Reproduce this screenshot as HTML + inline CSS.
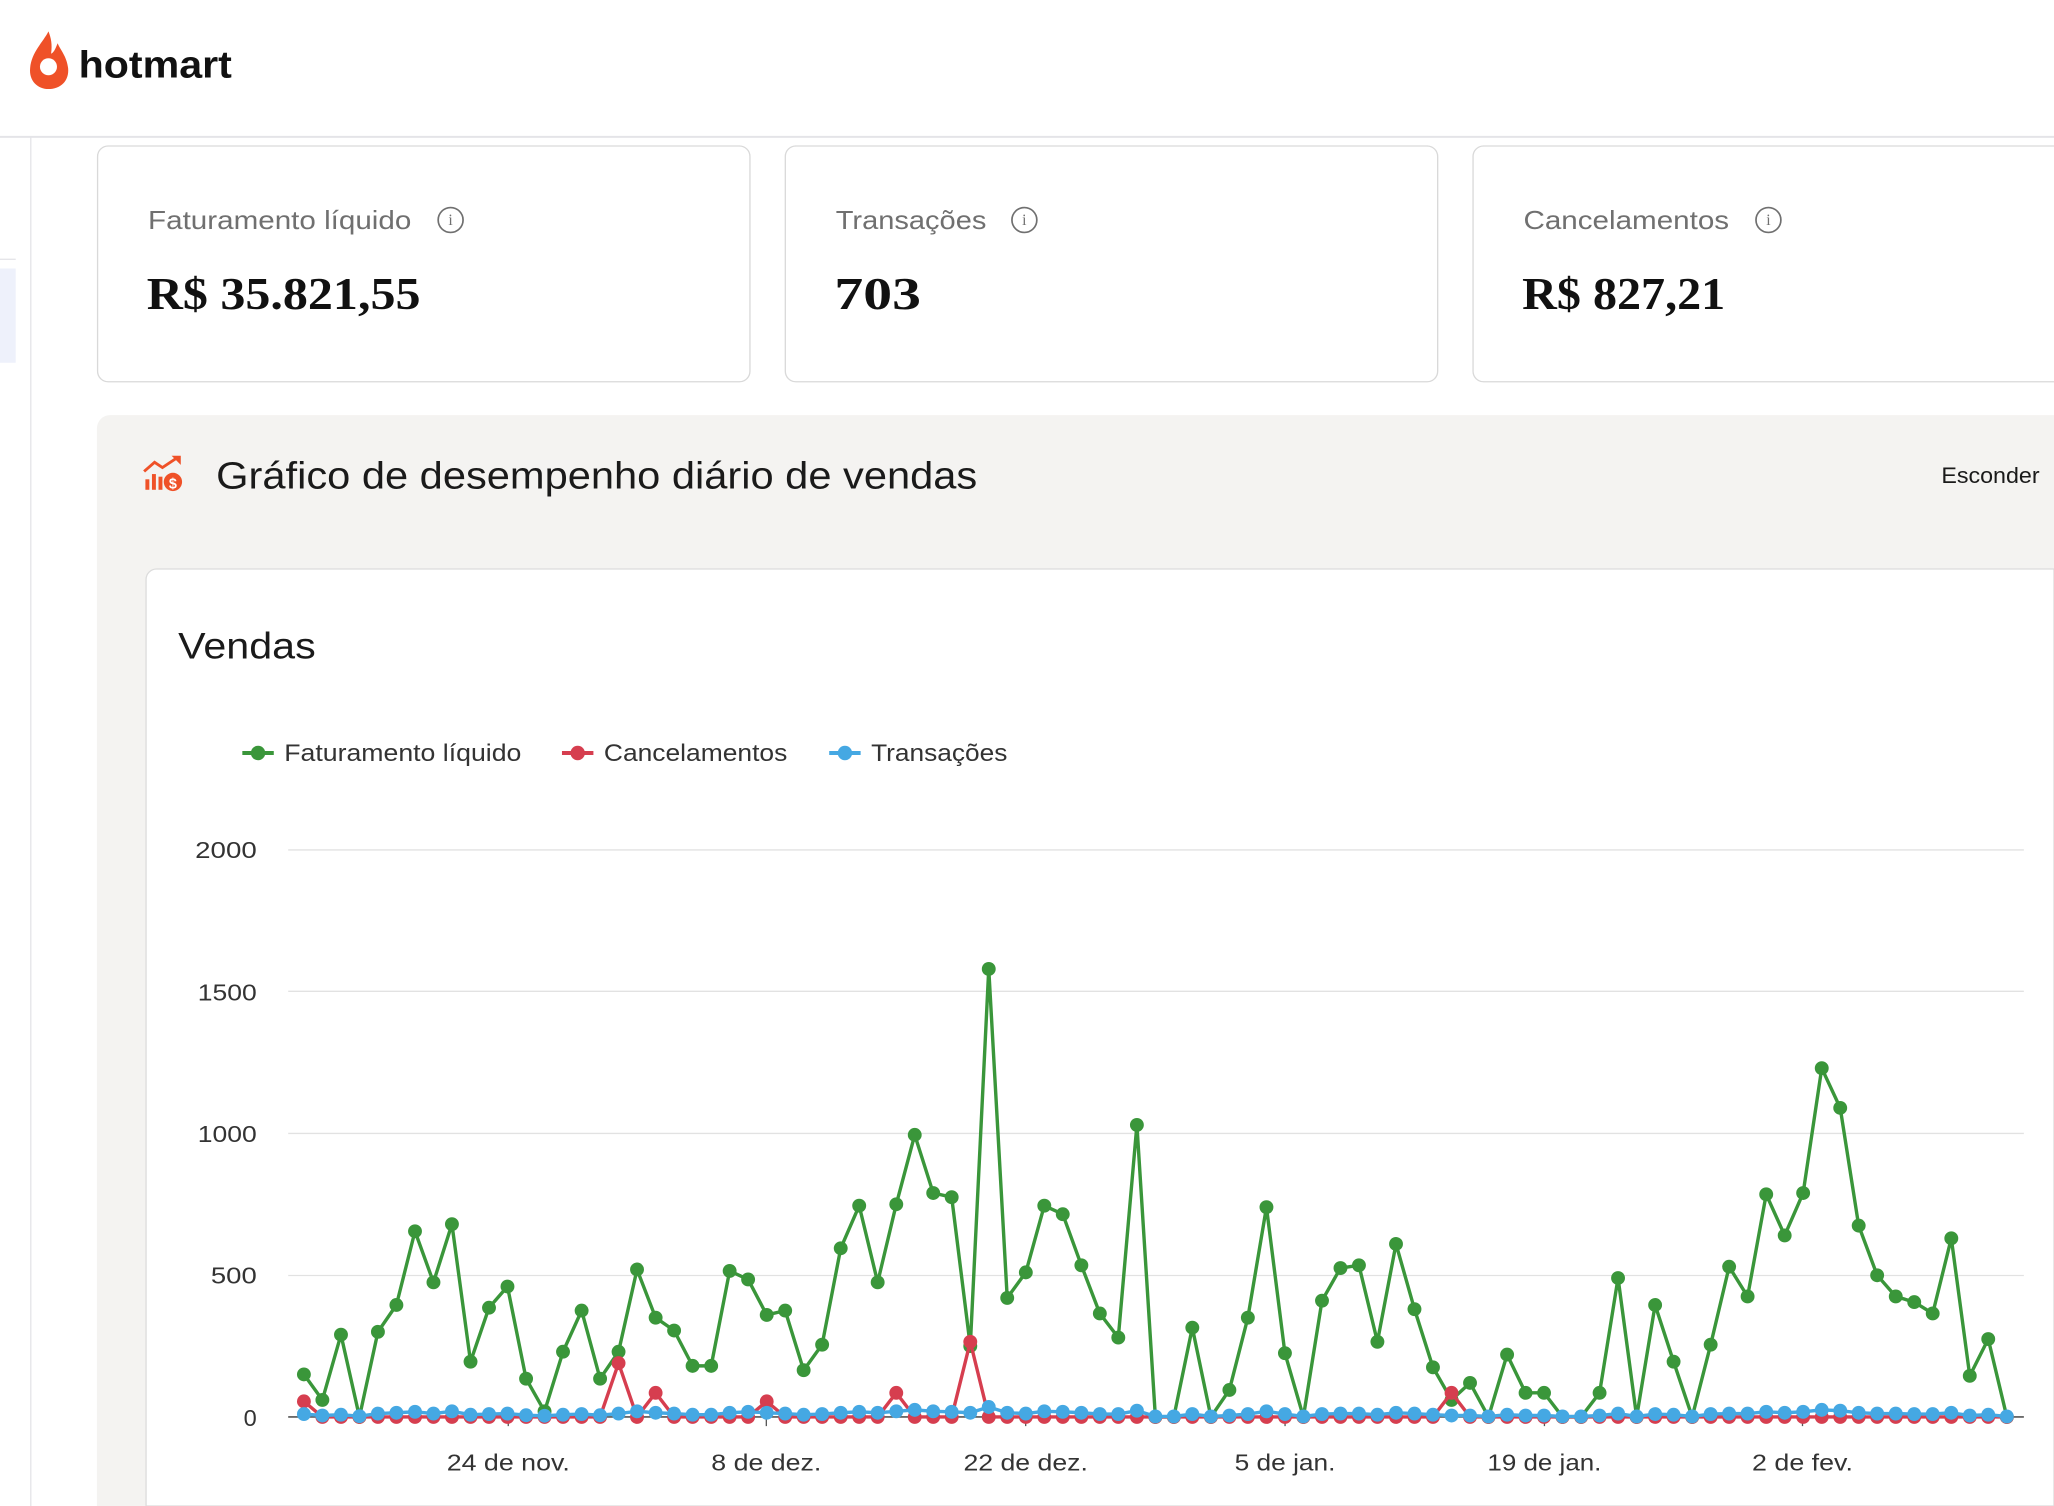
<!DOCTYPE html>
<html><head><meta charset="utf-8"><style>
html,body{margin:0;padding:0;background:#fff;overflow:hidden;width:2054px;height:1506px;}
svg{display:block;}
text{font-family:"Liberation Sans",sans-serif;}
</style></head><body>
<svg id="s" width="2054" height="1506" viewBox="0 0 1568 1150" preserveAspectRatio="none" xmlns="http://www.w3.org/2000/svg">
<rect width="1568" height="1150" fill="#fff"/>
<path d="M37 24 C33 32 24 40 23 52 C22 62 29 68 37 68 C46 68 53 62 52 52 C51 43 46 38 44 33 C42 38 41 40 39 41 C40 34 39 29 37 24 Z" fill="#ef5128"/>
<circle cx="37" cy="51" r="6.5" fill="#fff"/>
<text x="60" y="59" font-size="29" font-weight="bold" fill="#111" textLength="117" lengthAdjust="spacingAndGlyphs">hotmart</text>
<line x1="0" y1="104.5" x2="1568" y2="104.5" stroke="#e4e4e8" stroke-width="1.5"/>
<line x1="23.5" y1="104" x2="23.5" y2="1150" stroke="#e4e4e8" stroke-width="1"/>
<line x1="0" y1="198" x2="12" y2="198" stroke="#e4e4e8"/>
<rect x="0" y="205" width="12" height="72" fill="#eef1fb"/>
<rect x="74.5" y="111.5" width="498" height="180" rx="8" fill="#fff" stroke="#d9d9d9"/>
<rect x="599.5" y="111.5" width="498" height="180" rx="8" fill="#fff" stroke="#d9d9d9"/>
<path d="M1568 111.5 H1132.5 A8 8 0 0 0 1124.5 119.5 V283.5 A8 8 0 0 0 1132.5 291.5 H1568" fill="#fff" stroke="#d9d9d9"/>
<g font-size="20" fill="#707070">
<text x="113" y="175" textLength="201" lengthAdjust="spacingAndGlyphs">Faturamento líquido</text>
<text x="638" y="175" textLength="115" lengthAdjust="spacingAndGlyphs">Transações</text>
<text x="1163" y="175" textLength="157" lengthAdjust="spacingAndGlyphs">Cancelamentos</text>
</g>
<g fill="none" stroke="#707070" stroke-width="1.3">
<circle cx="344" cy="168" r="9.5"/><circle cx="782" cy="168" r="9.5"/><circle cx="1350" cy="168" r="9.5"/>
</g>
<g font-size="12" fill="#707070" text-anchor="middle">
<text x="344" y="172" style="font-family:'Liberation Serif',serif">i</text><text x="782" y="172" style="font-family:'Liberation Serif',serif">i</text><text x="1350" y="172" style="font-family:'Liberation Serif',serif">i</text>
</g>
<g font-size="35" font-weight="bold" fill="#111">
<text x="112" y="236" textLength="209" lengthAdjust="spacingAndGlyphs" style="font-family:'Liberation Serif',serif">R$ 35.821,55</text>
<text x="637" y="236" textLength="66" lengthAdjust="spacingAndGlyphs" style="font-family:'Liberation Serif',serif">703</text>
<text x="1162" y="236" textLength="155" lengthAdjust="spacingAndGlyphs" style="font-family:'Liberation Serif',serif">R$ 827,21</text>
</g>
<path d="M1568 317 H84 A10 10 0 0 0 74 327 V1150 H1568 Z" fill="#f4f3f1"/>
<g fill="#ef5128">
<rect x="111" y="366" width="3" height="8"/><rect x="116" y="362" width="3" height="12"/><rect x="121" y="364" width="3" height="10"/>
<circle cx="132" cy="368" r="7"/>
<path d="M110 360 L118 353 L124 357 L136 349" stroke="#ef5128" stroke-width="2.2" fill="none"/>
<path d="M131 348 L138 348 L138 355 Z"/>
</g>
<text x="132" y="373" font-size="11" font-weight="bold" fill="#fff" text-anchor="middle">$</text>
<text x="165" y="373" font-size="29" fill="#1a1a1a" textLength="581" lengthAdjust="spacingAndGlyphs">Gráfico de desempenho diário de vendas</text>
<text x="1482" y="369" font-size="17" fill="#1a1a1a" textLength="75" lengthAdjust="spacingAndGlyphs">Esconder</text>
<path d="M1568 434.5 H119.5 A8 8 0 0 0 111.5 442.5 V1150 H1568 Z" fill="#fff" stroke="#dcdcdc"/>
<text x="136" y="503" font-size="28" fill="#1a1a1a" textLength="105" lengthAdjust="spacingAndGlyphs">Vendas</text>
<g font-size="18.5" fill="#333">
<line x1="185" y1="575" x2="209" y2="575" stroke="#3a963a" stroke-width="3"/><circle cx="197" cy="575" r="5.5" fill="#3a963a"/>
<text x="217" y="581" textLength="181" lengthAdjust="spacingAndGlyphs">Faturamento líquido</text>
<line x1="429" y1="575" x2="453" y2="575" stroke="#d63e4f" stroke-width="3"/><circle cx="441" cy="575" r="5.5" fill="#d63e4f"/>
<text x="461" y="581" textLength="140" lengthAdjust="spacingAndGlyphs">Cancelamentos</text>
<line x1="633" y1="575" x2="657" y2="575" stroke="#45a8e3" stroke-width="3"/><circle cx="645" cy="575" r="5.5" fill="#45a8e3"/>
<text x="665" y="581" textLength="104" lengthAdjust="spacingAndGlyphs">Transações</text>
</g>
<g stroke="#e2e2e2" stroke-width="1">
<line x1="220" y1="649" x2="1545" y2="649"/><line x1="220" y1="757" x2="1545" y2="757"/>
<line x1="220" y1="865.5" x2="1545" y2="865.5"/><line x1="220" y1="974" x2="1545" y2="974"/>
</g>
<line x1="220" y1="1082" x2="1545" y2="1082" stroke="#555" stroke-width="1.3"/>
<g font-size="18" fill="#333" text-anchor="end">
<text x="196" y="655" textLength="47" lengthAdjust="spacingAndGlyphs">2000</text><text x="196" y="764" textLength="45" lengthAdjust="spacingAndGlyphs">1500</text><text x="196" y="872" textLength="45" lengthAdjust="spacingAndGlyphs">1000</text><text x="196" y="980" textLength="35" lengthAdjust="spacingAndGlyphs">500</text><text x="196" y="1089">0</text>
</g>
<g font-size="18" fill="#333" text-anchor="middle">
<text x="388" y="1123" textLength="94" lengthAdjust="spacingAndGlyphs">24 de nov.</text><text x="585" y="1123" textLength="84" lengthAdjust="spacingAndGlyphs">8 de dez.</text><text x="783" y="1123" textLength="95" lengthAdjust="spacingAndGlyphs">22 de dez.</text>
<text x="981" y="1123" textLength="77" lengthAdjust="spacingAndGlyphs">5 de jan.</text><text x="1179" y="1123" textLength="87" lengthAdjust="spacingAndGlyphs">19 de jan.</text><text x="1376" y="1123" textLength="77" lengthAdjust="spacingAndGlyphs">2 de fev.</text>
</g>
<g stroke="#555"><line x1="388" y1="1082" x2="388" y2="1089"/><line x1="585" y1="1082" x2="585" y2="1089"/><line x1="783" y1="1082" x2="783" y2="1089"/><line x1="981" y1="1082" x2="981" y2="1089"/><line x1="1179" y1="1082" x2="1179" y2="1089"/><line x1="1376" y1="1082" x2="1376" y2="1089"/></g>
<g id="series"></g>
</svg>
<script>
var G=[150,60,290,0,300,395,655,475,680,195,385,460,135,20,230,375,135,230,520,350,305,180,180,515,485,360,375,165,255,595,745,475,750,995,790,775,250,1580,420,510,745,715,535,365,280,1030,0,0,315,0,95,350,740,225,0,410,525,535,265,610,380,175,60,120,0,220,85,85,0,0,85,490,0,395,195,0,255,530,425,785,640,790,1230,1090,675,500,425,405,365,630,145,275,0];
var R=G.map(function(){return 0});R[0]=55;R[17]=190;R[19]=85;R[25]=55;R[32]=85;R[36]=265;R[62]=85;
var BB=[10,5,8,3,12,15,18,12,20,8,10,12,6,4,8,10,6,12,20,15,12,8,8,15,18,15,12,8,10,15,18,15,20,25,20,18,15,35,15,12,20,18,15,10,10,22,2,2,10,2,5,10,20,10,2,10,12,12,8,15,12,8,5,5,2,8,5,5,2,2,5,12,2,10,8,2,10,12,12,18,15,18,25,22,15,12,12,10,10,15,5,8,2];
function x(i){return 232+14.13*i}function y(v){return 1082-v*0.2165}
var out='';
[[G,'#3a963a'],[R,'#d63e4f'],[BB,'#45a8e3']].forEach(function(s){
var p=s[0].map(function(v,i){return x(i).toFixed(1)+','+y(v).toFixed(1)}).join(' ');
out+='<polyline points="'+p+'" fill="none" stroke="'+s[1]+'" stroke-width="2.6" stroke-linejoin="round"/>';
s[0].forEach(function(v,i){out+='<circle cx="'+x(i).toFixed(1)+'" cy="'+y(v).toFixed(1)+'" r="5.3" fill="'+s[1]+'"/>'});
});
document.getElementById('series').innerHTML=out;
</script>
</body></html>
